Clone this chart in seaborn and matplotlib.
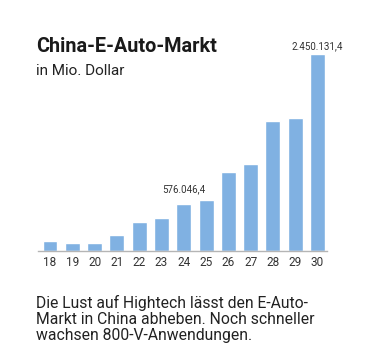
import numpy as np
import pandas as pd
import matplotlib.pyplot as plt
import seaborn as sns

# Data (Mio. Dollar)
years = ["18", "19", "20", "21", "22", "23", "24", "25", "26", "27", "28", "29", "30"]
values = [124000, 95000, 96000, 195000, 360000, 405000, 576046.4, 629000,
          976000, 1075000, 1610000, 1650000, 2450131.4]
labelled = ["24", "30"]


def de_fmt(v):
    s = f"{v:,.1f}"
    return s.replace(",", "X").replace(".", ",").replace("X", ".")


def main():
    sns.set_style("white")
    plt.rcParams['font.family'] = ['Roboto', 'DejaVu Sans']
    df = pd.DataFrame({"year": years, "value": values})

    fig = plt.figure(figsize=(3.85, 3.54), dpi=100)
    ax = fig.add_axes([0.098, 0.2918, 0.751, 0.595])
    sns.barplot(data=df, x="year", y="value", color="#80b1e2", saturation=1,
                width=0.67, ax=ax)

    ax.set_xlim(-0.55, 12.42)
    ax.set_ylim(0, 2.624e6)
    for s in ["top", "right", "left"]:
        ax.spines[s].set_visible(False)
    ax.spines["bottom"].set_color("#b5b5b5")
    ax.spines["bottom"].set_linewidth(1.0)
    ax.set_yticks([])
    ax.set_xlabel("")
    ax.set_ylabel("")
    ax.tick_params(axis="x", length=0, pad=4, labelsize=8.5, labelcolor="#333333")

    # value labels (offset in points above the bar)
    offsets = {"24": 7.5, "30": 2.0}
    for i, (y, v) in enumerate(zip(years, values)):
        if y in labelled:
            ax.annotate(de_fmt(v), xy=(i, v), xytext=(0, offsets[y]), textcoords="offset points",
                        ha="center", va="bottom", fontsize=7, color="#333333")

    # Decorations
    fig.text(0.094, 0.87, "China-E-Auto-Markt", fontsize=14.3, fontweight="bold",
             color="#1a1a1a", va="center")
    fig.text(0.094, 0.80, "in Mio. Dollar", fontsize=11, color="#222222", va="center")
    fig.text(0.094, 0.032,
             "Die Lust auf Hightech lässt den E-Auto-\nMarkt in China abheben. Noch schneller\nwachsen 800-V-Anwendungen.",
             fontsize=11.3, color="#222222", va="bottom", linespacing=1.08)

    plt.savefig("out.png", dpi=100)


if __name__ == "__main__":
    main()
